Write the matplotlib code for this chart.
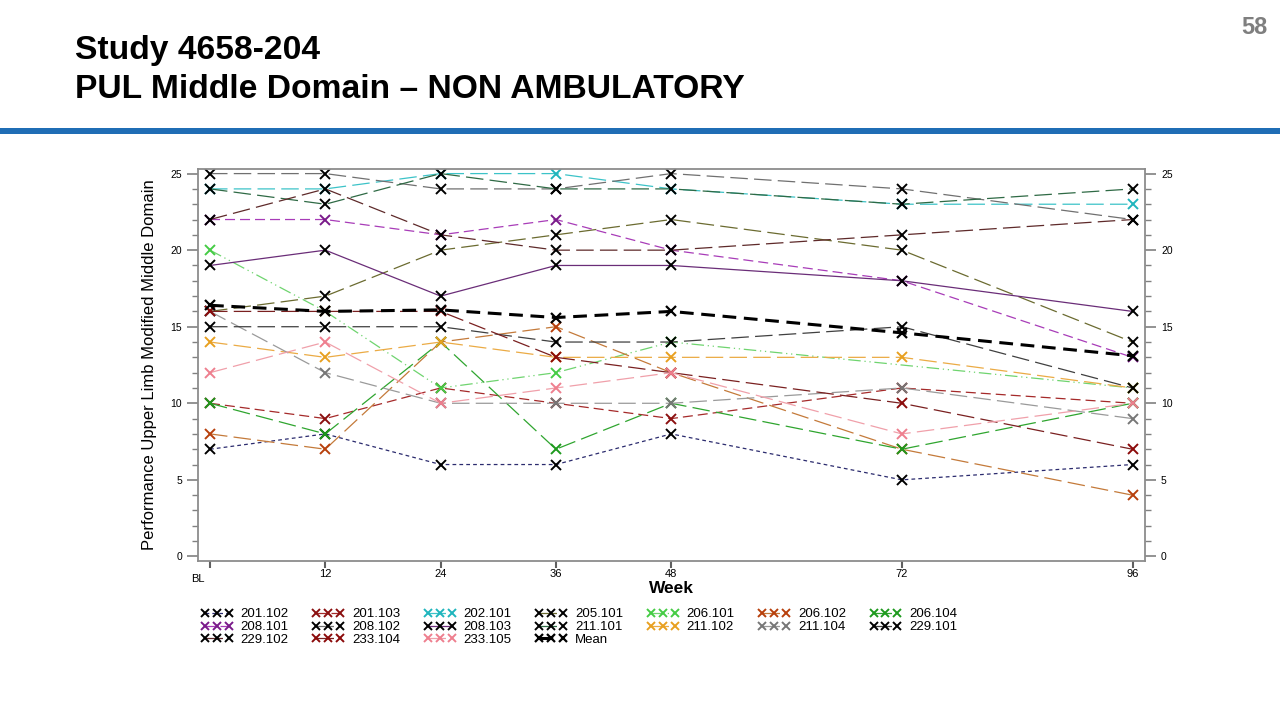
import numpy as np
import matplotlib
matplotlib.use('Agg')
import matplotlib.pyplot as plt
from matplotlib.patches import Rectangle

plt.rcParams['font.family'] = ['Liberation Sans', 'DejaVu Sans']

# x axis: visit weeks
weeks = [0, 12, 24, 36, 48, 72, 96]
week_labels = ['BL', '12', '24', '36', '48', '72', '96']

# PUL middle domain score per patient (nan = no visit)
s201_102 = [7, 8, 6, 6, 8, 5, 6]
s201_103 = [10, 9, 11, 10, 9, 11, 10]
s202_101 = [24, 24, 25, 25, 24, 23, 23]
s205_101 = [16, 17, 20, 21, 22, 20, 14]
s206_101 = [20, 16, 11, 12, 14, np.nan, 11]
s206_102 = [8, 7, 14, 15, 12, 7, 4]
s206_104 = [10, 8, 14, 7, 10, 7, 10]
s208_101 = [22, 22, 21, 22, 20, 18, 13]
s208_102 = [25, 25, 24, 24, 25, 24, 22]
s208_103 = [19, 20, 17, 19, 19, 18, 16]
s211_101 = [24, 23, 25, 24, 24, 23, 24]
s211_102 = [14, 13, 14, 13, 13, 13, 11]
s211_104 = [16, 12, 10, 10, 10, 11, 9]
s229_101 = [15, 15, 15, 14, 14, 15, 11]
s229_102 = [22, 24, 21, 20, 20, 21, 22]
s233_104 = [16, 16, 16, 13, 12, 10, 7]
s233_105 = [12, 14, 10, 11, 12, 8, 10]
mean_vals = [16.4, 16.0, 16.1, 15.6, 16.0, 14.6, 13.1]

# dash patterns
LONG = (0, (14, 5))
MED = (0, (8, 4))
SHORT = (0, (3, 2.5))
DDOT = (0, (10, 3, 1, 3, 1, 3))

# name, values, line colour, marker colour, linestyle
series = [
    ('201.102', s201_102, '#2b2b6e', 'black', SHORT),
    ('201.103', s201_103, '#a52a2a', '#8b1010', MED),
    ('202.101', s202_101, '#3cc3c8', '#20b5bd', LONG),
    ('205.101', s205_101, '#6b6b30', 'black', LONG),
    ('206.101', s206_101, '#6fd46f', '#45cc45', DDOT),
    ('206.102', s206_102, '#c47a3a', '#b8400c', LONG),
    ('206.104', s206_104, '#2fa52f', '#1e9a1e', LONG),
    ('208.101', s208_101, '#a83cb8', '#7a1a8a', MED),
    ('208.102', s208_102, '#707070', 'black', LONG),
    ('208.103', s208_103, '#6a2d78', 'black', '-'),
    ('211.101', s211_101, '#2f6a45', 'black', LONG),
    ('211.102', s211_102, '#ebab45', '#e8a020', LONG),
    ('211.104', s211_104, '#9a9a9a', '#777777', LONG),
    ('229.101', s229_101, '#404040', 'black', LONG),
    ('229.102', s229_102, '#5e2a2a', 'black', LONG),
    ('233.104', s233_104, '#7a2020', '#8b0a0a', LONG),
    ('233.105', s233_105, '#f0a0aa', '#ee7f8e', LONG),
]

fig = plt.figure(figsize=(12.8, 7.2), dpi=100)
ax = fig.add_axes([198 / 1280, 1 - 561 / 720, (1145 - 198) / 1280, (561 - 169) / 720])

handles = {}
x_arr = np.array(weeks, dtype=float)
for name, vals, lc, mc, ls in series:
    y = np.array(vals, dtype=float)
    ok = ~np.isnan(y)
    ln, = ax.plot(x_arr[ok], y[ok], color=lc, ls=ls, lw=0.9,
                  marker='x', ms=6.5, mew=1.4, mec=mc, zorder=2)
    handles[name] = ln

ln, = ax.plot(weeks, mean_vals, color='black', ls=(0, (4.5, 2.5)), lw=2.2,
              marker='x', ms=7, mew=1.6, mec='black', zorder=3)
handles['Mean'] = ln

# axes styling
ax.set_xlim(-1.25, 97.3)
ax.set_ylim(-0.3, 25.3)
ax.set_xticks(weeks)
# BL is written separately: it sits lower and left of its tick
ax.set_xticklabels([''] + week_labels[1:], fontsize=8)
ax.text(-0.6, -1.45, week_labels[0], fontsize=8, ha='right', va='center', clip_on=False)
ax.set_yticks(np.arange(0, 26, 5))
ax.set_yticks(np.arange(0, 26, 1), minor=True)
ax.tick_params(axis='y', which='both', right=True, labelright=True, labelsize=7.5,
               color='#808080')
ax.tick_params(axis='y', which='major', length=8, width=1.2)
ax.tick_params(axis='y', which='minor', length=4, width=1.0)
ax.tick_params(axis='x', length=5, width=1.5, color='#606060', pad=1)
for sp in ax.spines.values():
    sp.set_color('#8c8c8c')
    sp.set_linewidth(1.3)

ax.set_xlabel('Week', fontsize=12.5, fontweight='bold', labelpad=1)
ax.set_ylabel('Performance Upper Limb Modified Middle Domain', fontsize=12, labelpad=10)

# legend, rows read left to right
order = ['201.102', '208.101', '229.102',
         '201.103', '208.102', '233.104',
         '202.101', '208.103', '233.105',
         '205.101', '211.101', 'Mean',
         '206.101', '211.102',
         '206.102', '211.104',
         '206.104', '229.101']
fig.legend([handles[k] for k in order], order, ncol=7, numpoints=3, markerscale=0.8,
           loc='upper left', bbox_to_anchor=(201 / 1280, 1 - 608 / 720),
           frameon=False, fontsize=9.5, handlelength=2.4, handletextpad=0.6,
           columnspacing=1.8, labelspacing=0.05, borderpad=0, borderaxespad=0)

# slide header
fig.text(75 / 1280, 1 - 50 / 720, 'Study 4658-204', fontsize=24.2, fontweight='bold',
         va='center', ha='left')
fig.text(75 / 1280, 1 - 90 / 720, 'PUL Middle Domain \u2013 NON AMBULATORY', fontsize=24.2,
         fontweight='bold', va='center', ha='left')
fig.text(1268 / 1280, 1 - 28 / 720, '58', fontsize=17, fontweight='bold', color='#7f7f7f',
         va='center', ha='right')
fig.add_artist(Rectangle((0, 1 - 134 / 720), 1, 6 / 720, transform=fig.transFigure,
                         color='#1f6db5', lw=0))

fig.savefig('out.png', dpi=100)
